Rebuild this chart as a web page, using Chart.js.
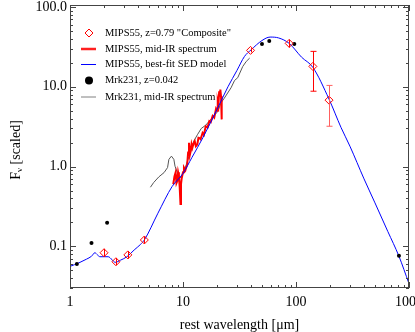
<!DOCTYPE html>
<html>
<head>
<meta charset="utf-8">
<script src="https://cdn.jsdelivr.net/npm/chart.js@4.4.1/dist/chart.umd.min.js"></script>
<style>
  html, body { margin: 0; padding: 0; background: #fff; }
  #wrap { width: 415px; height: 332px; }
</style>
</head>
<body>
<div id="wrap"><canvas id="sedChart" width="415" height="332"></canvas></div>
<script>
// MIPS55 composite photometry (rest wavelength um, scaled flux, error range)
const compWave = [2.0, 2.55, 3.25, 4.55, 39.6, 87, 141, 196];
const compFlux = [0.083, 0.064, 0.078, 0.12, 28.6, 35, 18, 6.8];
const compLow  = [0.074, 0.058, 0.070, 0.108, 27, 31, 8.8, 3.2];
const compHigh = [0.093, 0.071, 0.087, 0.133, 30.5, 39, 27.8, 10.4];

// MIPS55 mid-IR spectrum
const specWave = [8.2, 8.4, 8.6, 8.75, 8.9, 9.05, 9.2, 9.35, 9.5, 9.6, 9.75, 10.0, 10.2, 10.5, 10.9, 11.1, 11.3, 11.5,
  11.7, 11.9, 12.1, 12.4, 12.7, 13.0, 13.4, 13.7, 13.9, 14.3, 14.9, 15.3, 15.9, 16.5, 17.1, 17.6, 18.3, 18.9,
  19.6, 20.0, 20.3, 20.6, 20.9, 21.2, 21.4, 21.7, 22.0];
const specFlux = [0.60, 0.75, 0.84, 0.62, 0.66, 0.85, 0.76, 0.55, 0.34, 0.60, 0.72, 0.85, 0.97, 0.90, 1.07, 1.5, 1.98, 1.4,
  1.56, 1.9, 1.72, 1.95, 2.08, 1.8, 1.9, 2.3, 2.29, 2.2, 2.64, 2.5, 3.2, 3.1, 3.7, 3.6, 4.3, 4.1,
  5.3, 5.0, 6.6, 6.0, 8.8, 7.5, 9.2, 7.6, 3.9];

// MIPS55 best-fit SED model
const modelWave = [1.0, 1.2, 1.4, 1.55, 1.66, 1.75, 1.84, 2.18, 2.35, 2.51, 2.8, 3.19, 3.7, 4.19, 4.55, 6, 8, 10, 12, 15,
  20, 25, 30, 35, 40, 50, 59, 70, 87, 112, 141, 196, 250, 300, 400, 500, 650, 815, 1000];
const modelFlux = [0.056, 0.062, 0.069, 0.075, 0.083, 0.078, 0.074, 0.074, 0.068, 0.063, 0.067, 0.074, 0.09, 0.105, 0.12,
  0.26, 0.56, 0.82, 1.3, 2.3, 5.2, 10, 16, 24, 29, 38, 42, 41, 35, 23.5, 17.5, 7, 3.1, 1.8, 0.7, 0.35, 0.153, 0.075, 0.034];

// Mrk231 photometry
const mrkWave = [1.15, 1.55, 2.13, 50, 58, 96.6, 815];
const mrkFlux = [0.060, 0.11, 0.198, 34.3, 37.4, 34.3, 0.076];

// Mrk231 mid-IR spectrum
const mrkSpecWave = [5.15, 5.5, 6.1, 6.8, 7.3, 7.5, 7.9, 8.3, 8.5, 8.9, 9.5, 10.2, 11, 11.8, 12.5, 13.4, 14.5, 15.9,
  17.6, 20.3, 21.7, 23.2, 26.6, 28.6, 30.5, 33.8, 36.3, 38.9];
const mrkSpecFlux = [0.55, 0.63, 0.74, 0.84, 0.97, 1.23, 1.35, 1.23, 1.01, 0.84, 0.72, 0.85, 1.2, 1.6, 2.1, 2.5, 3.0, 3.3,
  3.9, 4.9, 6.3, 7.2, 9.7, 12, 13, 18, 20.8, 22.9];

// axis ticks
const xMajor = [1, 10, 100, 1000];
const xMinor = [2, 3, 4, 5, 6, 7, 8, 9, 20, 30, 40, 50, 60, 70, 80, 90, 200, 300, 400, 500, 600, 700, 800, 900];
const yMajor = [0.1, 1, 10, 100];
const yMinor = [0.03, 0.04, 0.05, 0.06, 0.07, 0.08, 0.09, 0.2, 0.3, 0.4, 0.5, 0.6, 0.7, 0.8, 0.9,
  2, 3, 4, 5, 6, 7, 8, 9, 20, 30, 40, 50, 60, 70, 80, 90];

const legendItems = [
  { text: 'MIPS55, z=0.79 "Composite"', kind: 'diamond', color: '#ff0000' },
  { text: 'MIPS55, mid-IR spectrum', kind: 'line', color: '#ff2020', width: 2.5 },
  { text: 'MIPS55, best-fit SED model', kind: 'line', color: '#0000ff', width: 1 },
  { text: 'Mrk231, z=0.042', kind: 'dot', color: '#000000' },
  { text: 'Mrk231, mid-IR spectrum', kind: 'line', color: '#808080', width: 1 }
];

const pts = (xs, ys) => xs.map((v, i) => ({ x: v, y: ys[i] }));
const FONT = "'Liberation Serif', 'DejaVu Serif', serif";

Chart.defaults.font.family = FONT;
Chart.defaults.color = '#000';

// frame, inward ticks, error bars, legend, y title
const decorations = {
    id: 'decorations',
    afterDatasetsDraw(chart) {
        const { ctx, chartArea: a, scales: { x, y } } = chart;
        ctx.save();

        // error bars
        compWave.forEach((w, i) => {
            const px = Math.round(x.getPixelForValue(w)) + 0.5;
            const y1 = y.getPixelForValue(compLow[i]);
            const y2 = y.getPixelForValue(compHigh[i]);
            ctx.strokeStyle = i === 7 ? '#ff6060' : '#ff0000';
            ctx.lineWidth = 1;
            ctx.beginPath();
            ctx.moveTo(px, y1); ctx.lineTo(px, y2);
            if (y1 - y2 > 12) {
                ctx.moveTo(px - 3, y1); ctx.lineTo(px + 3, y1);
                ctx.moveTo(px - 3, y2); ctx.lineTo(px + 3, y2);
            }
            ctx.stroke();
        });

        // frame
        ctx.strokeStyle = '#444';
        ctx.lineWidth = 1;
        ctx.strokeRect(a.left + 0.5, a.top + 0.5, a.right - a.left - 1, a.bottom - a.top - 1);
        ctx.beginPath();
        const xt = (vals, len) => vals.forEach(v => {
            const px = Math.round(x.getPixelForValue(v)) + 0.5;
            ctx.moveTo(px, a.bottom); ctx.lineTo(px, a.bottom - len);
            ctx.moveTo(px, a.top); ctx.lineTo(px, a.top + len);
        });
        const yt = (vals, len) => vals.forEach(v => {
            const py = Math.round(y.getPixelForValue(v)) + 0.5;
            ctx.moveTo(a.left, py); ctx.lineTo(a.left + len, py);
            ctx.moveTo(a.right, py); ctx.lineTo(a.right - len, py);
        });
        xt(xMajor, 6); xt(xMinor, 3);
        yt(yMajor, 6); yt(yMinor, 3);
        ctx.stroke();

        // legend
        ctx.font = '10.5px ' + FONT;
        ctx.textBaseline = 'middle';
        const rows = [33, 49, 64.5, 80.5, 97];
        legendItems.forEach((it, i) => {
            const cy = rows[i];
            const cx = 89;
            ctx.strokeStyle = it.color;
            ctx.fillStyle = it.color;
            if (it.kind === 'diamond') {
                ctx.lineWidth = 1;
                ctx.beginPath();
                ctx.moveTo(cx, cy - 4); ctx.lineTo(cx + 4, cy); ctx.lineTo(cx, cy + 4); ctx.lineTo(cx - 4, cy);
                ctx.closePath();
                ctx.stroke();
            } else if (it.kind === 'line') {
                ctx.lineWidth = it.width;
                ctx.beginPath();
                ctx.moveTo(cx - 8, cy); ctx.lineTo(cx + 7, cy);
                ctx.stroke();
            } else {
                ctx.beginPath();
                ctx.arc(cx, cy, 4, 0, Math.PI * 2);
                ctx.fill();
            }
            ctx.fillStyle = '#000';
            ctx.fillText(it.text, 105, cy);
        });

        // y axis title with subscript nu
        ctx.translate(16, 150);
        ctx.rotate(-Math.PI / 2);
        ctx.fillStyle = '#000';
        ctx.textBaseline = 'middle';
        ctx.font = '14px ' + FONT;
        const wF = ctx.measureText('F').width;
        const wRest = ctx.measureText(' [scaled]').width;
        ctx.font = '9px ' + FONT;
        const wNu = ctx.measureText('\u03bd').width;
        let sx = -(wF + wNu + wRest) / 2;
        ctx.font = '14px ' + FONT;
        ctx.fillText('F', sx, 0);
        ctx.font = '9px ' + FONT;
        ctx.fillText('\u03bd', sx + wF, 4);
        ctx.font = '14px ' + FONT;
        ctx.fillText(' [scaled]', sx + wF + wNu, 0);

        ctx.restore();
    }
};

new Chart(document.getElementById('sedChart'), {
    type: 'scatter',
    data: {
        datasets: [
            {
                label: 'MIPS55, z=0.79 "Composite"',
                data: pts(compWave, compFlux),
                pointStyle: 'rectRot',
                pointRadius: 4,
                borderColor: '#ff0000',
                backgroundColor: 'rgba(0,0,0,0)',
                borderWidth: 1,
                order: 0
            },
            {
                label: 'Mrk231, z=0.042',
                data: pts(mrkWave, mrkFlux),
                pointRadius: 2,
                backgroundColor: '#000',
                borderWidth: 0,
                order: 1
            },
            {
                label: 'MIPS55, best-fit SED model',
                data: pts(modelWave, modelFlux),
                showLine: true,
                borderColor: '#0000ff',
                borderWidth: 1,
                pointRadius: 0,
                cubicInterpolationMode: 'monotone',
                order: 2
            },
            {
                label: 'MIPS55, mid-IR spectrum',
                data: pts(specWave, specFlux),
                showLine: true,
                borderColor: '#ff0000',
                borderWidth: 2,
                pointRadius: 0,
                tension: 0,
                order: 3
            },
            {
                label: 'Mrk231, mid-IR spectrum',
                data: pts(mrkSpecWave, mrkSpecFlux),
                showLine: true,
                borderColor: '#555',
                borderWidth: 1,
                pointRadius: 0,
                tension: 0,
                order: 4
            }
        ]
    },
    options: {
        responsive: false,
        animation: false,
        devicePixelRatio: 1,
        layout: { padding: { top: 4, right: 6, left: 0, bottom: 0 } },
        plugins: { legend: { display: false }, tooltip: { enabled: false } },
        scales: {
            x: {
                type: 'logarithmic',
                min: 1,
                max: 1000,
                grid: { display: false, drawTicks: false },
                border: { display: false },
                afterBuildTicks: s => { s.ticks = xMajor.concat(xMinor).sort((a, b) => a - b).map(v => ({ value: v })); },
                afterFit: s => { s.height = 44; s.paddingLeft = 0; s.paddingRight = 0; },
                ticks: {
                    autoSkip: false,
                    maxRotation: 0,
                    padding: 6,
                    font: { size: 14 },
                    callback: v => xMajor.includes(v) ? String(v) : ''
                },
                title: {
                    display: true,
                    text: 'rest wavelength [\u03bcm]',
                    font: { size: 14 },
                    padding: { top: 0, bottom: -2 }
                }
            },
            y: {
                type: 'logarithmic',
                min: 0.03,
                max: 106,
                grid: { display: false, drawTicks: false },
                border: { display: false },
                afterBuildTicks: s => { s.ticks = yMajor.concat(yMinor).sort((a, b) => a - b).map(v => ({ value: v })); },
                afterFit: s => { s.width = 70; s.paddingTop = 0; s.paddingBottom = 0; },
                ticks: {
                    autoSkip: false,
                    padding: 3,
                    font: { size: 14 },
                    callback: v => yMajor.includes(v) ? v.toFixed(1) : ''
                }
            }
        }
    },
    plugins: [decorations]
});
</script>
</body>
</html>
